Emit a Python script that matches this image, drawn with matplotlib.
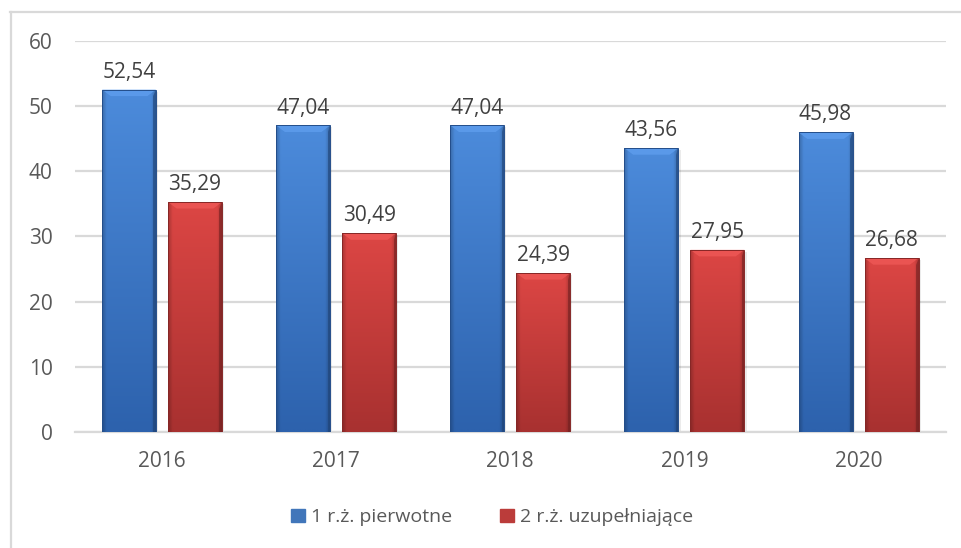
import numpy as np
import matplotlib.pyplot as plt
from matplotlib.patches import Polygon, Rectangle
from matplotlib.lines import Line2D

years = ["2016", "2017", "2018", "2019", "2020"]
pierwotne = [52.54, 47.04, 47.04, 43.56, 45.98]
uzupelniajace = [35.29, 30.49, 24.39, 27.95, 26.68]
series_names = ["1 r.ż. pierwotne", "2 r.ż. uzupełniające"]

plt.rcParams["font.family"] = ["Open Sans", "DejaVu Sans"]

BLUE_TOP = np.array([0x4c, 0x8b, 0xdb]) / 255
BLUE_BOT = np.array([0x2d, 0x62, 0xad]) / 255
RED_TOP = np.array([0xdc, 0x46, 0x44]) / 255
RED_BOT = np.array([0xa8, 0x31, 0x30]) / 255


def gradient_bar(ax, bar, top, bot):
    x0 = bar.get_x()
    w = bar.get_width()
    h = bar.get_height()
    ny, nx = 60, 40
    t = np.linspace(1, 0, ny)[:, None, None]
    img = bot + (top - bot) * t
    img = np.repeat(img, nx, axis=1)
    xs = np.linspace(0, 1, nx)
    edge = 1 - 0.2 * np.clip(1 - np.minimum(xs, 1 - xs) / 0.08, 0, 1)
    img = img * edge[None, :, None]
    im = ax.imshow(img, extent=(x0, x0 + w, 0, h), aspect="auto",
                   origin="upper", zorder=3, interpolation="bilinear")
    im.set_clip_path(bar)
    # soft shadow to the right
    ax.add_patch(Rectangle((x0 + w, 0), 0.012, h - 0.3, color="#000000",
                           alpha=0.08, lw=0, zorder=2))
    # bevel on top
    bw = 0.05
    bh = 1.0
    light = np.clip(top + 0.08, 0, 1)
    ax.add_patch(Polygon([(x0, h), (x0 + w, h), (x0 + w - bw, h - bh),
                          (x0 + bw, h - bh)], closed=True, color=light,
                         alpha=0.75, lw=0, zorder=4))
    dark = bot * 0.7
    ax.add_patch(Polygon([(x0 + w, h), (x0 + w, 0), (x0 + w - 0.015, 0),
                          (x0 + w - 0.015, h - bh)], closed=True, color=dark,
                         alpha=0.6, lw=0, zorder=4))
    ax.add_patch(Rectangle((x0, 0), w, h, fill=False, ec=bot * 0.8,
                           lw=0.7, zorder=5))


fig = plt.figure(figsize=(9.61, 5.48), dpi=100)
ax = fig.add_axes([0.078, 0.2117, 0.906, 0.7135])

x = np.arange(len(years))
width = 0.31
gap = 0.069
off = (width + gap) / 2

bars1 = ax.bar(x - off, pierwotne, width, color="none", zorder=3)
bars2 = ax.bar(x + off, uzupelniajace, width, color="none", zorder=3)

for b in bars1:
    gradient_bar(ax, b, BLUE_TOP, BLUE_BOT)
for b in bars2:
    gradient_bar(ax, b, RED_TOP, RED_BOT)

for bars, vals in [(bars1, pierwotne), (bars2, uzupelniajace)]:
    for b, v in zip(bars, vals):
        ax.annotate(f"{v:.2f}".replace(".", ","),
                    (b.get_x() + b.get_width() / 2, v),
                    xytext=(0, 5), textcoords="offset points",
                    ha="center", va="bottom", fontsize=15, color="#404040",
                    zorder=6)

ax.set_xlim(-0.5, len(years) - 0.5)
ax.set_ylim(0, 60)
ax.set_yticks(range(0, 61, 10))
ax.set_xticks(x)
ax.set_xticklabels(years)
ax.yaxis.grid(True, color="#d9d9d9", lw=1.6, zorder=0)
ax.set_axisbelow(True)
for s in ["top", "right", "left"]:
    ax.spines[s].set_visible(False)
ax.spines["bottom"].set_color("#d9d9d9")
ax.spines["bottom"].set_linewidth(1.6)
ax.tick_params(axis="both", length=0, labelsize=15, labelcolor="#595959")
ax.tick_params(axis="y", pad=16)
ax.tick_params(axis="x", pad=14)

handles = [Rectangle((0, 0), 1, 1, color=BLUE_TOP * 0.85),
           Rectangle((0, 0), 1, 1, color=RED_TOP * 0.85)]
fig.legend(handles, series_names, loc="center", bbox_to_anchor=(0.512, 0.056),
           ncol=2, frameon=False, fontsize=14, labelcolor="#595959",
           handlelength=0.7, handleheight=0.7, handletextpad=0.3,
           columnspacing=2.5)

# chart border (left and top)
W, H = 961, 548
fig.add_artist(Line2D([10.5 / W, 10.5 / W], [0, 1 - 12 / H],
                      transform=fig.transFigure, color="#d9d9d9", lw=1.6))
fig.add_artist(Line2D([10 / W, 1], [1 - 12 / H, 1 - 12 / H],
                      transform=fig.transFigure, color="#d9d9d9", lw=1.6))

fig.savefig("out.png", dpi=100)
